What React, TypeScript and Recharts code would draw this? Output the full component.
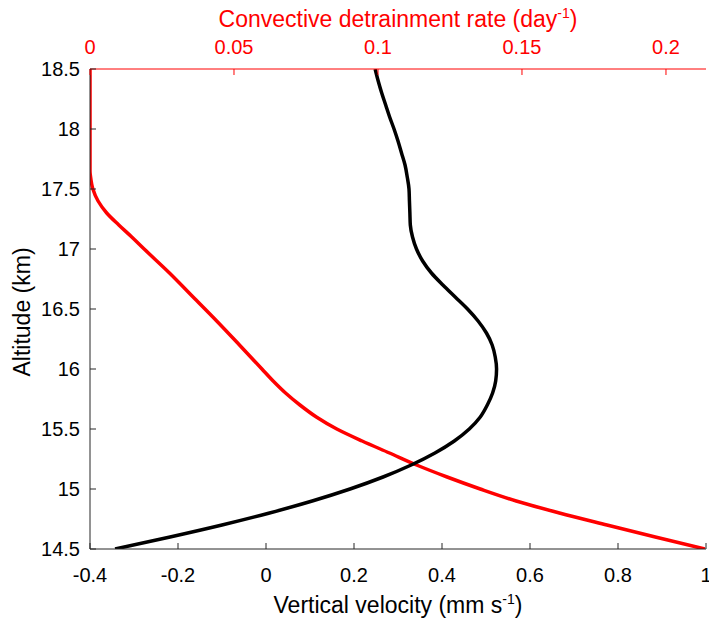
import React from 'react';
import { LineChart, Line, XAxis, YAxis } from 'recharts';

// black profile: vertical velocity (mm/s) vs altitude (km)
const velAlt = [14.5, 14.6, 14.7, 14.8, 14.9, 15.0, 15.1, 15.2, 15.3, 15.4, 15.5, 15.6, 15.7, 15.8, 15.9, 16.0, 16.1, 16.2, 16.3, 16.4, 16.5, 16.6, 16.7, 16.8, 16.9, 17.0, 17.1, 17.2, 17.3, 17.4, 17.5, 17.6, 17.7, 17.8, 17.9, 18.0, 18.1, 18.2, 18.3, 18.4, 18.5];
const velocity = [-0.343, -0.218, -0.1, 0.008, 0.105, 0.191, 0.266, 0.33, 0.384, 0.428, 0.462, 0.487, 0.503, 0.515, 0.522, 0.524, 0.521, 0.514, 0.501, 0.482, 0.458, 0.43, 0.402, 0.376, 0.356, 0.342, 0.333, 0.328, 0.327, 0.326, 0.325, 0.321, 0.316, 0.308, 0.3, 0.291, 0.281, 0.272, 0.263, 0.255, 0.248];

// red profile: convective detrainment rate (1/day) vs altitude (km)
const detAlt = [14.5, 14.6, 14.7, 14.8, 14.9, 15.0, 15.1, 15.2, 15.3, 15.4, 15.5, 15.6, 15.7, 15.8, 15.9, 16.0, 16.2, 16.4, 16.6, 16.8, 17.0, 17.1, 17.2, 17.3, 17.4, 17.5, 17.6, 17.65, 18.0, 18.5];
const detrainment = [0.2135, 0.1963, 0.1795, 0.163, 0.148, 0.1355, 0.124, 0.1134, 0.104, 0.0945, 0.0857, 0.0786, 0.0729, 0.0679, 0.0636, 0.0597, 0.0519, 0.044, 0.0358, 0.0276, 0.0188, 0.0145, 0.01, 0.0058, 0.0028, 0.001, 0.0002, 0, 0, 0];

const velTicks = [-0.4, -0.2, 0, 0.2, 0.4, 0.6, 0.8, 1];
const detTicks = [0, 0.05, 0.1, 0.15, 0.2];
const altTicks = [14.5, 15, 15.5, 16, 16.5, 17, 17.5, 18, 18.5];

const velData = velAlt.map((alt, i) => ({ alt, w: velocity[i] }));
const detData = detAlt.map((alt, i) => ({ alt, r: detrainment[i] }));

const FONT = '"Liberation Sans", Arial, sans-serif';
const AXIS = '#262626';
const RED = '#ff0000';
const TICK_LEN = 6;
const TICK_FS = 20;
const TITLE_FS = 23;

const BOTTOM_GAP = 26;
const TOP_GAP = 22;
const LEFT_GAP = 10;

const BottomTick = (props: any) => {
  const { x, y, payload } = props;
  const ay = y - BOTTOM_GAP;
  return (
    <g>
      <line x1={x} x2={x} y1={ay} y2={ay - TICK_LEN} stroke={AXIS} />
      <text x={x} y={y} dy="0.35em" textAnchor="middle" fontSize={TICK_FS} fontFamily={FONT} fill="#000">
        {payload.value}
      </text>
    </g>
  );
};

const TopTick = (props: any) => {
  const { x, y, payload } = props;
  const ay = y + TOP_GAP;
  return (
    <g>
      <line x1={x} x2={x} y1={ay} y2={ay + TICK_LEN} stroke={RED} />
      <text x={x} y={y} dy="0.35em" textAnchor="middle" fontSize={TICK_FS} fontFamily={FONT} fill={RED}>
        {payload.value}
      </text>
    </g>
  );
};

const LeftTick = (props: any) => {
  const { x, y, payload } = props;
  const ax = x + LEFT_GAP;
  return (
    <g>
      <line x1={ax} x2={ax + TICK_LEN} y1={y} y2={y} stroke={AXIS} />
      <text x={x} y={y} dy="0.35em" textAnchor="end" fontSize={TICK_FS} fontFamily={FONT} fill="#000">
        {payload.value}
      </text>
    </g>
  );
};

const RightTick = (props: any) => {
  const { x, y } = props;
  return <line x1={x} x2={x - TICK_LEN} y1={y} y2={y} stroke={AXIS} />;
};

const BottomTitle = (props: any) => {
  const vb = props.viewBox;
  return (
    <text x={vb.x + vb.width / 2} y={vb.y + 56} dy="0.35em" textAnchor="middle" fontSize={TITLE_FS} fontFamily={FONT} fill="#000">
      Vertical velocity (mm s<tspan dy={-9} fontSize={14}>-1</tspan><tspan dy={9}>)</tspan>
    </text>
  );
};

const TopTitle = (props: any) => {
  const vb = props.viewBox;
  return (
    <text x={vb.x + vb.width / 2} y={vb.y + 19} dy="0.35em" textAnchor="middle" fontSize={TITLE_FS} fontFamily={FONT} fill={RED}>
      Convective detrainment rate (day<tspan dy={-9} fontSize={14}>-1</tspan><tspan dy={9}>)</tspan>
    </text>
  );
};

const LeftTitle = (props: any) => {
  const vb = props.viewBox;
  const cy = vb.y + vb.height / 2 + 3;
  return (
    <text x={22} y={cy} dy="0.35em" textAnchor="middle" fontSize={TITLE_FS} fontFamily={FONT} fill="#000" transform={`rotate(-90, 22, ${cy})`}>
      Altitude (km)
    </text>
  );
};

export default function App() {
  return (
    <div style={{ position: 'absolute', left: 0, top: 0, background: '#fff' }}>
      <LineChart
        width={709}
        height={621}
        layout="vertical"
        margin={{ top: 0, right: 3, bottom: 0, left: 0 }}
      >
        <XAxis
          xAxisId="w"
          type="number"
          dataKey="w"
          orientation="bottom"
          domain={[-0.4, 1]}
          ticks={velTicks}
          interval={0}
          allowDataOverflow
          height={72}
          tickSize={0}
          tickMargin={BOTTOM_GAP}
          tickLine={false}
          axisLine={{ stroke: AXIS }}
          tick={<BottomTick />}
          label={<BottomTitle />}
        />
        <XAxis
          xAxisId="r"
          type="number"
          dataKey="r"
          orientation="top"
          domain={[0, 0.2139]}
          ticks={detTicks}
          interval={0}
          allowDataOverflow
          height={69}
          tickSize={0}
          tickMargin={TOP_GAP}
          tickLine={false}
          axisLine={{ stroke: RED }}
          tick={<TopTick />}
          label={<TopTitle />}
        />
        <YAxis
          yAxisId="alt"
          type="number"
          dataKey="alt"
          orientation="left"
          domain={[14.5, 18.5]}
          reversed
          ticks={altTicks}
          interval={0}
          allowDataOverflow
          width={90}
          tickSize={0}
          tickMargin={LEFT_GAP}
          tickLine={false}
          axisLine={{ stroke: AXIS }}
          tick={<LeftTick />}
          label={<LeftTitle />}
        />
        <YAxis
          yAxisId="right"
          type="number"
          dataKey="alt"
          orientation="right"
          domain={[14.5, 18.5]}
          reversed
          ticks={altTicks}
          interval={0}
          allowDataOverflow
          width={0}
          tickSize={0}
          tickMargin={0}
          tickLine={false}
          axisLine={{ stroke: AXIS }}
          tick={<RightTick />}
        />
        <Line
          data={detData}
          xAxisId="r"
          yAxisId="alt"
          dataKey="r"
          type="monotone"
          stroke={RED}
          strokeWidth={3.5}
          dot={false}
          isAnimationActive={false}
        />
        <Line
          data={velData}
          xAxisId="w"
          yAxisId="alt"
          dataKey="w"
          type="monotone"
          stroke="#000"
          strokeWidth={3.5}
          dot={false}
          isAnimationActive={false}
        />
      </LineChart>
    </div>
  );
}
